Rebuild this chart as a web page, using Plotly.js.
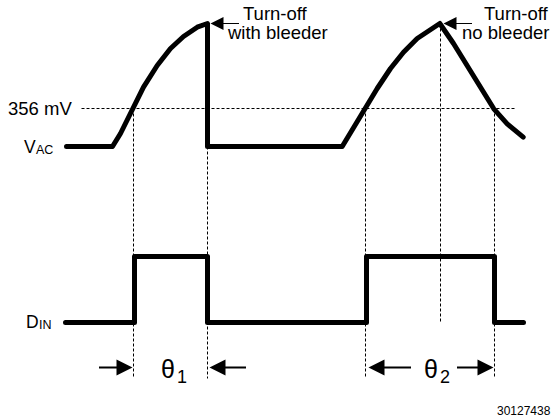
<!DOCTYPE html>
<html>
<head>
<meta charset="utf-8">
<script src="https://cdn.plot.ly/plotly-3.0.1.min.js"></script>
<style>
  html, body { margin: 0; padding: 0; background: #fff; }
  #chart { width: 556px; height: 420px; }
  .js-line { stroke-linecap: round; stroke-linejoin: round; }
  .scatterlayer .trace:first-child .js-line { stroke-linecap: butt; }
</style>
</head>
<body>
<div id="chart"></div>
<script>
// Diagram coordinates (x: time, y: level, drawn top-down)

// V_AC waveform: first hump cut off by bleeder, second hump decays naturally
const vacX = [66, 112, 120, 131, 143, 156.7, 170, 183, 196.7, 207, 207, 341.7, 353, 363, 376.7, 390, 403, 416.7, 430, 439.3, 453, 466.7, 480, 493.3, 506.7, 522.7];
const vacY = [146, 146, 133, 110, 86.7, 65, 48, 36, 26.7, 23, 146, 146, 126.7, 110, 88, 68, 51.7, 38, 29, 23, 43, 65, 86.7, 108.3, 123.3, 136.7];

// D_IN digital signal
const dinX = [65, 134, 134, 207, 207, 366, 366, 494, 494, 523];
const dinY = [322, 322, 256, 256, 322, 322, 256, 256, 322, 322];

// 356 mV threshold
const threshX = [81, 515];
const threshY = [108, 108];

// dotted guides dropping from the waveform
const guideXs = [133, 207, 365, 440, 494];
const guideTop = [108, 146, 108, 23, 108];
const guideBottom = [378, 378, 378, 322, 378];

// theta interval arrows: [tail, head]
const thetaArrows = [[97, 132], [247, 209], [412, 368], [455, 493]];

const guideX = [], guideY = [];
threshX.forEach((v, i) => { guideX.push(v); guideY.push(threshY[i]); });
guideXs.forEach((v, i) => {
    guideX.push(null, v, v); guideY.push(null, guideTop[i], guideBottom[i]);
});

const FONT = 'Liberation Sans, Arial, Helvetica, sans-serif';

const traces = [
    { x: guideX, y: guideY, mode: 'lines', line: { color: '#000', width: 1, dash: '3px,2px' }, hoverinfo: 'skip' },
    { x: vacX, y: vacY, mode: 'lines', line: { color: '#000', width: 5 }, hoverinfo: 'skip' },
    { x: dinX, y: dinY, mode: 'lines', line: { color: '#000', width: 5 }, hoverinfo: 'skip' }
];

function label(text, x, y, xanchor, size) {
    return { text: text, x: x, y: y, xref: 'x', yref: 'y', xanchor: xanchor, yanchor: 'middle',
             showarrow: false, borderpad: 0, font: { family: FONT, size: size || 18.5, color: '#000' } };
}
function arrow(tail, head, y, w, s) {
    return { text: '', x: head, y: y, ax: tail, ay: y, xref: 'x', yref: 'y', axref: 'x', ayref: 'y',
             showarrow: true, arrowhead: 2, arrowwidth: w, arrowsize: s, arrowcolor: '#000' };
}

const annotations = [
    label('356 mV', 72, 108, 'right'),
    label('V', 36, 146, 'right', 17.5),
    label('AC', 34.5, 149, 'left', 12.5),
    label('D', 39, 321, 'right', 17.5),
    label('IN', 37.5, 324, 'left', 12.5),
    label('Turn-off', 275, 13, 'center'),
    label('with bleeder', 277, 31.5, 'center'),
    label('Turn-off', 549, 13, 'right'),
    label('no bleeder', 549, 31.5, 'right'),
    label('θ', 167.5, 368, 'center', 25),
    label('1', 175.5, 376.5, 'left', 18),
    label('θ', 430.5, 368, 'center', 25),
    label('2', 438.5, 376.5, 'left', 18),
    label('30127438', 551, 410, 'right', 12),
    arrow(240, 210, 23, 1, 2.6),
    arrow(473, 443, 23, 1, 2.6)
];
thetaArrows.forEach(a => annotations.push(arrow(a[0], a[1], 367, 2, 1.6)));

const layout = {
    width: 556, height: 420,
    margin: { t: 0, b: 0, l: 0, r: 0 },
    paper_bgcolor: '#fff', plot_bgcolor: '#fff',
    showlegend: false,
    // half-pixel offset so 1px dotted guides land on whole pixels
    xaxis: { range: [-0.5, 555.5], visible: false, fixedrange: true },
    yaxis: { range: [419.5, -0.5], visible: false, fixedrange: true },
    annotations: annotations
};

Plotly.newPlot('chart', traces, layout, { displayModeBar: false, staticPlot: true });
</script>
</body>
</html>
